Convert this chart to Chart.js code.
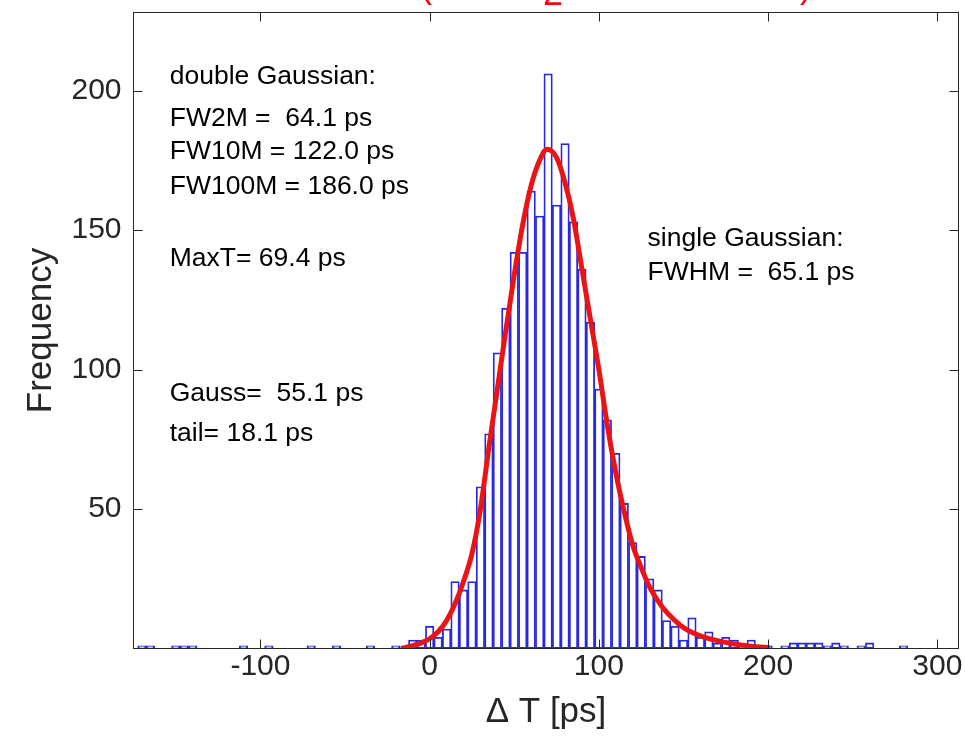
<!DOCTYPE html>
<html>
<head>
<meta charset="utf-8">
<title>Delta T histogram</title>
<script src="https://cdn.jsdelivr.net/npm/chart.js@4.4.1/dist/chart.umd.min.js"></script>
<style>
  html, body { margin: 0; padding: 0; background: #ffffff; }
  #wrap { width: 965px; height: 746px; }
</style>
</head>
<body>
<div id="wrap"><canvas id="histChart" width="965" height="746"></canvas></div>
<script>
// histogram bins (5 ps wide), centres in ps
const binCenters = [
    -170, -165, -160, -155, -150, -145, -140, -135, -130, -125,
    -120, -115, -110, -105, -100, -95, -90, -85, -80, -75,
    -70, -65, -60, -55, -50, -45, -40, -35, -30, -25,
    -20, -15, -10, -5, 0, 5, 10, 15, 20, 25,
    30, 35, 40, 45, 50, 55, 60, 65, 70, 75,
    80, 85, 90, 95, 100, 105, 110, 115, 120, 125,
    130, 135, 140, 145, 150, 155, 160, 165, 170, 175,
    180, 185, 190, 195, 200, 205, 210, 215, 220, 225,
    230, 235, 240, 245, 250, 255, 260, 265, 270, 275,
    280, 285, 290, 295, 300, 305, 310
];
const counts = [
    1, 1, 0, 0, 1, 1, 1, 0, 0, 0,
    0, 0, 1, 0, 0, 1, 0, 0, 0, 0,
    1, 0, 0, 1, 0, 0, 0, 1, 0, 0,
    1, 0, 3, 3, 8, 4, 7, 24, 21, 24,
    58, 77, 106, 122, 142, 142, 164, 155, 206, 159,
    181, 153, 136, 117, 93, 82, 70, 52, 38, 33,
    25, 21, 10, 8, 3, 11, 4, 6, 2, 4,
    3, 1, 3, 1, 1, 0, 1, 2, 2, 2,
    2, 1, 2, 1, 0, 1, 2, 0, 0, 0,
    1, 0, 0, 0, 0, 0, 0
];

// fitted curve
const fitX = [-17, -10, -5, 0, 5, 10, 15, 20, 25, 30, 35, 40, 45, 50, 55, 60, 65, 69.4,
              75, 80, 85, 90, 95, 100, 105, 110, 115, 120, 125, 130, 135, 140, 145, 150,
              160, 170, 180, 190, 201];
const fitY = [0, 1, 2, 3.5, 6, 10, 16, 24, 34, 50, 72, 93, 114, 134, 152, 166, 175, 179,
              176, 167, 154, 136, 118, 100, 80, 63, 49, 37, 29, 22, 17, 13, 10, 7.5,
              4.5, 2.8, 1.6, 0.8, 0.3];

const xTicks = [-100, 0, 100, 200, 300];
const yTicks = [50, 100, 150, 200];

// text boxes (data coordinates of the left edge / middle)
const leftNotes = ["double Gaussian:", "FW2M =  64.1 ps", "FW10M = 122.0 ps", "FW100M = 186.0 ps",
                   "MaxT= 69.4 ps", "Gauss=  55.1 ps", "tail= 18.1 ps"];
const leftNotesY = [205, 190, 178, 165.5, 139.8, 91.4, 77];
const leftNotesX = -153.6;
const rightNotes = ["single Gaussian:", "FWHM =  65.1 ps"];
const rightNotesY = [147, 134.8];
const rightNotesX = 128.8;

const FONT = "'Liberation Sans', Arial, Helvetica, sans-serif";
const AXIS_COLOR = "#262626";

const boxPlugin = {
    id: "boxPlugin",
    afterDraw(chart) {
        const ctx = chart.ctx;
        const a = chart.chartArea;
        const xs = chart.scales.x;
        const ys = chart.scales.y;
        const tick = 9;

        ctx.save();
        ctx.strokeStyle = AXIS_COLOR;
        ctx.lineWidth = 1;
        ctx.strokeRect(a.left, a.top, a.right - a.left, a.bottom - a.top);

        ctx.beginPath();
        xTicks.forEach(v => {
            const px = Math.round(xs.getPixelForValue(v)) + 0.5;
            ctx.moveTo(px, a.bottom); ctx.lineTo(px, a.bottom - tick);
            ctx.moveTo(px, a.top); ctx.lineTo(px, a.top + tick);
        });
        yTicks.forEach(v => {
            const py = Math.round(ys.getPixelForValue(v)) + 0.5;
            ctx.moveTo(a.left, py); ctx.lineTo(a.left + tick, py);
            ctx.moveTo(a.right, py); ctx.lineTo(a.right - tick, py);
        });
        ctx.stroke();

        // notes
        ctx.fillStyle = "#000000";
        ctx.font = "26.5px " + FONT;
        ctx.textAlign = "left";
        ctx.textBaseline = "middle";
        leftNotes.forEach((t, i) => {
            ctx.fillText(t, xs.getPixelForValue(leftNotesX), ys.getPixelForValue(leftNotesY[i]));
        });
        rightNotes.forEach((t, i) => {
            ctx.fillText(t, xs.getPixelForValue(rightNotesX), ys.getPixelForValue(rightNotesY[i]));
        });

        // clipped red title at the very top
        ctx.fillStyle = "rgb(240,10,10)";
        ctx.font = "36px " + FONT;
        ctx.textAlign = "center";
        ctx.textBaseline = "alphabetic";
        ctx.fillText("(", 426, -3);
        ctx.fillText("2", 553, 5);
        ctx.fillText(")", 806, -3);
        ctx.restore();
    }
};

const ctx = document.getElementById("histChart").getContext("2d");
new Chart(ctx, {
    type: "bar",
    data: {
        datasets: [
            {
                type: "line",
                data: fitX.map((x, i) => ({ x: x, y: fitY[i] })),
                borderColor: "rgb(235,20,20)",
                borderWidth: 5,
                pointRadius: 0,
                cubicInterpolationMode: "monotone",
                fill: false,
                order: 0
            },
            {
                type: "bar",
                data: binCenters.map((x, i) => ({ x: x, y: counts[i] })),
                backgroundColor: "#ffffff",
                borderColor: "rgb(40,40,225)",
                borderWidth: 1.8,
                borderSkipped: false,
                barPercentage: 1,
                categoryPercentage: 1,
                order: 1
            }
        ]
    },
    options: {
        responsive: false,
        animation: false,
        layout: { padding: { top: 12.5, right: 6.5, left: 0, bottom: 0 } },
        plugins: {
            legend: { display: false },
            tooltip: { enabled: false }
        },
        scales: {
            x: {
                type: "linear",
                min: -175,
                max: 312.5,
                offset: false,
                grid: { display: false, drawTicks: false },
                border: { display: false },
                afterBuildTicks: s => { s.ticks = xTicks.map(v => ({ value: v })); },
                afterFit: s => {
                    s.height = 97.5;
                    s.paddingLeft = 0;
                    s.paddingRight = 0;
                },
                ticks: {
                    color: AXIS_COLOR,
                    padding: 0,
                    maxRotation: 0,
                    font: { family: FONT, size: 30 }
                },
                title: {
                    display: true,
                    text: "Δ T [ps]",
                    color: AXIS_COLOR,
                    font: { family: FONT, size: 35 },
                    padding: { top: 0, bottom: 13 }
                }
            },
            y: {
                type: "linear",
                min: 0,
                max: 228,
                grid: { display: false, drawTicks: false },
                border: { display: false },
                afterBuildTicks: s => { s.ticks = yTicks.map(v => ({ value: v })); },
                afterFit: s => {
                    s.width = 133.5;
                    s.paddingTop = 0;
                    s.paddingBottom = 0;
                },
                ticks: {
                    color: AXIS_COLOR,
                    padding: 12,
                    font: { family: FONT, size: 30 }
                },
                title: {
                    display: true,
                    text: "Frequency",
                    color: AXIS_COLOR,
                    font: { family: FONT, size: 35 },
                    padding: { top: 20, bottom: 0 }
                }
            }
        }
    },
    plugins: [boxPlugin]
});
</script>
</body>
</html>
